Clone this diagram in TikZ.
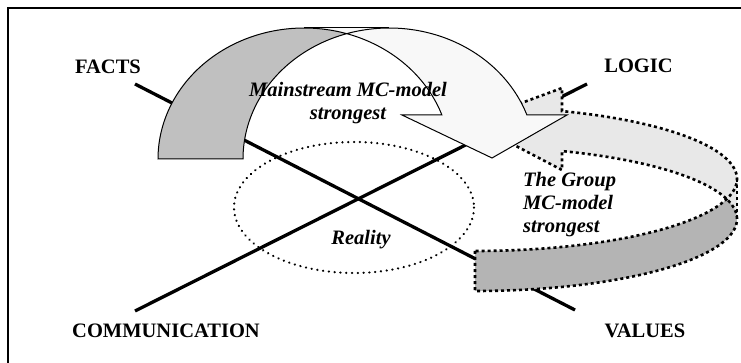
\documentclass[tikz,border=0pt]{standalone}
\usepackage{fontspec}
\setmainfont{Liberation Serif}
\definecolor{frontA}{RGB}{248,248,248}
\definecolor{backA}{RGB}{192,192,192}
\definecolor{frontB}{RGB}{232,232,232}
\definecolor{backB}{RGB}{180,180,180}
\begin{document}
\begin{tikzpicture}[x=1pt,y=-1pt,
  axisline/.style={line width=3.3pt},
  corner/.style={font=\fontsize{20.5}{23}\selectfont\bfseries, inner sep=0pt, anchor=base},
  note/.style={font=\fontsize{20.5}{23}\selectfont\bfseries\itshape, inner sep=0pt},
  edge/.style={line width=1pt, line join=miter},
  dotedge/.style={line width=2.6pt, dash pattern=on 3pt off 3pt},
  realm/.style={line width=2.4pt, line cap=round, dash pattern=on 0.1pt off 5.7pt}
]
\useasboundingbox (0,0) rectangle (741,363);
\clip (0,0) rectangle (741,363);
% outer frame (right and bottom sides lie outside the page)
\draw[line width=1.5pt] (8,8) rectangle (760,380);

% the "Reality" region
\draw[realm] (354,207.5) ellipse [x radius=120, y radius=65.5];

% the two crossing axes
\coordinate (factsEnd) at (135,84);
\coordinate (valuesEnd) at (575,310);
\coordinate (commEnd) at (135,311);
\coordinate (logicEnd) at (587,84);
\draw[axisline] (factsEnd) -- (valuesEnd);
\draw[axisline] (commEnd) -- (logicEnd);

% dotted curved arrow on the right (two ellipses, centres 40 apart)
\fill[frontB]
  plot[domain=-70.6:0, samples=60] ({475+262*cos(\x)},{219+72*sin(\x)})
  -- plot[domain=0:-70.6, samples=60] ({475+262*cos(\x)},{179+72*sin(\x)})
  -- (562,88) -- (470,122) -- (562,170) -- cycle;
\fill[backB]
  plot[domain=90:-16.13, samples=80] ({475+262*cos(\x)},{219+72*sin(\x)})
  -- plot[domain=16.13:90, samples=80] ({475+262*cos(\x)},{179+72*sin(\x)})
  -- cycle;
\draw[dotedge] (475,251)
  -- plot[domain=90:-70.6, samples=100] ({475+262*cos(\x)},{219+72*sin(\x)})
  -- (562,170) -- (470,122) -- (562,88)
  -- plot[domain=-70.6:90, samples=100] ({475+262*cos(\x)},{179+72*sin(\x)})
  -- cycle;
\draw[dotedge] (737,179) -- (737,219);

% solid curved arrow on top (two ellipses, centres 85 apart)
\fill[frontA]
  plot[domain=340.37:270, samples=60] ({304.2+146.2*cos(\x)},{159+131*sin(\x)})
  -- plot[domain=270:340.37, samples=60] ({389.2+146.2*cos(\x)},{159+131*sin(\x)})
  -- (567,115) -- (492,158) -- (402,115) -- cycle;
\fill[backA]
  plot[domain=180:286.9, samples=60] ({304.2+146.2*cos(\x)},{159+131*sin(\x)})
  -- plot[domain=253.1:180, samples=60] ({389.2+146.2*cos(\x)},{159+131*sin(\x)})
  -- cycle;
\draw[edge]
  plot[domain=180:340.37, samples=120] ({304.2+146.2*cos(\x)},{159+131*sin(\x)})
  -- (402,115) -- (492,158) -- (567,115)
  -- plot[domain=340.37:180, samples=120] ({389.2+146.2*cos(\x)},{159+131*sin(\x)})
  -- cycle;
\draw[edge] (304.2,28) -- (389.2,28);

% labels
\node[corner] (facts) at (108,74) {FACTS};
\node[corner] (logic) at (638.5,73) {LOGIC};
\node[corner] (comm) at (166,337) {COMMUNICATION};
\node[corner] (values) at (645,337) {VALUES};
\node[note, anchor=base] (reality) at (361,244) {Reality};
\node[note, align=center] (mainstream) at (348,103.2) {Mainstream MC-model\\strongest};
\node[note, align=left, anchor=west] (group) at (523,204.2) {The Group\\MC-model\\strongest};
\end{tikzpicture}
\end{document}
